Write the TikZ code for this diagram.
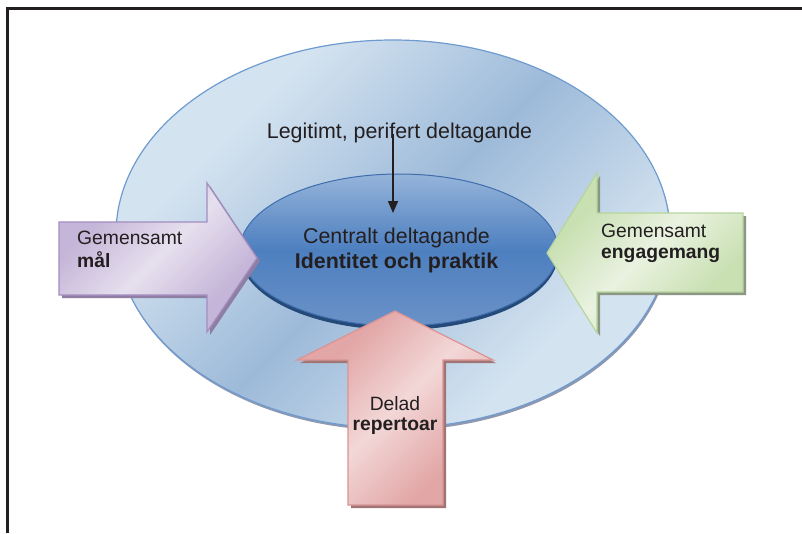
\documentclass[tikz,border=0pt]{standalone}
\usepackage{fontspec}
\setmainfont{Liberation Sans}
\usetikzlibrary{arrows.meta}
\definecolor{framec}{HTML}{231F20}
\definecolor{textc}{HTML}{231F20}
\definecolor{oL}{HTML}{D4E3F0}
\definecolor{oD}{HTML}{9DBAD9}
\definecolor{oB}{HTML}{6E9BD0}
\definecolor{oS}{HTML}{8E98AE}
\definecolor{iT}{HTML}{95B4DA}
\definecolor{iM}{HTML}{4D7FBF}
\definecolor{iB}{HTML}{6A92C7}
\definecolor{iBo}{HTML}{3F6DAD}
\definecolor{iR}{HTML}{244A7A}
\definecolor{pB}{HTML}{A48DC0}
\definecolor{pL}{HTML}{E6E0EE}
\definecolor{pD}{HTML}{C5B5D8}
\definecolor{pS}{HTML}{8E7EA3}
\definecolor{gB}{HTML}{B7D59D}
\definecolor{gL}{HTML}{E9F2E0}
\definecolor{gD}{HTML}{C9E0B3}
\definecolor{gS}{HTML}{8C9684}
\definecolor{rB}{HTML}{D99494}
\definecolor{rL}{HTML}{F3D7D7}
\definecolor{rD}{HTML}{E2A6A6}
\definecolor{rS}{HTML}{A27575}
\pgfdeclarehorizontalshading{outersh}{100bp}{color(0bp)=(oL); color(30bp)=(oL); color(50bp)=(oD); color(70bp)=(oL); color(100bp)=(oL)}
\pgfdeclareverticalshading{innersh}{100bp}{color(0bp)=(iB); color(25bp)=(iB); color(50bp)=(iM); color(75bp)=(iT); color(100bp)=(iT)}
\pgfdeclarehorizontalshading{pursh}{100bp}{color(0bp)=(pD); color(30bp)=(pD); color(50bp)=(pL); color(70bp)=(pD); color(100bp)=(pD)}
\pgfdeclarehorizontalshading{grnsh}{100bp}{color(0bp)=(gD); color(30bp)=(gD); color(50bp)=(gL); color(70bp)=(gD); color(100bp)=(gD)}
\pgfdeclarehorizontalshading{pnksh}{100bp}{color(0bp)=(rD); color(30bp)=(rD); color(50bp)=(rL); color(70bp)=(rD); color(100bp)=(rD)}
\begin{document}
\begin{tikzpicture}[x=1pt,y=-1pt,
  ctxt/.style={text=textc, inner sep=0pt, font=\fontsize{21.4}{25}\selectfont},
  ctxtb/.style={ctxt, font=\fontsize{21.4}{25}\selectfont\bfseries},
  atxt/.style={text=textc, inner sep=0pt, font=\fontsize{19.3}{22}\selectfont},
  atxtb/.style={atxt, font=\fontsize{19.3}{22}\selectfont\bfseries},
  framepen/.style={draw=framec, line width=3pt},
  arrowshadow/.style={xshift=3pt, yshift=-3pt},
]
\useasboundingbox (0,0) rectangle (802,533);
\fill[white] (0,0) rectangle (802,533);
\draw[framepen] (7,533) -- (7,8) -- (803,8);

% outer ellipse
\fill[oS] (394,236.5) ellipse [x radius=277pt, y radius=194pt];
\path[shading=outersh, shading angle=-45, draw=oB, line width=1.2pt] (393,234) ellipse [x radius=277pt, y radius=194pt];

% inner ellipse
\fill[iR] (399,254) ellipse [x radius=159pt, y radius=76pt];
\path[shading=innersh, draw=iBo, line width=1pt] (399,250) ellipse [x radius=159pt, y radius=76pt];

% left arrow (purple)
\fill[pS, arrowshadow] (59,222) -- (207,222) -- (207,183) -- (257,258) -- (207,332) -- (207,295) -- (59,295) -- cycle;
\path[shading=pursh, shading angle=-45, draw=pB, line width=1.2pt] (59,222) -- (207,222) -- (207,183) -- (257,258) -- (207,332) -- (207,295) -- (59,295) -- cycle;

% right arrow (green)
\fill[gS, arrowshadow] (743,213) -- (597,213) -- (597,173) -- (547,253) -- (597,333) -- (597,292) -- (743,292) -- cycle;
\path[shading=grnsh, shading angle=-45, draw=gB, line width=1.2pt] (743,213) -- (597,213) -- (597,173) -- (547,253) -- (597,333) -- (597,292) -- (743,292) -- cycle;

% bottom arrow (pink)
\fill[rS, arrowshadow] (395,311) -- (493,360) -- (443,360) -- (443,505) -- (348,505) -- (348,360) -- (297,360) -- cycle;
\path[shading=pnksh, shading angle=-45, draw=rB, line width=1.2pt] (395,311) -- (493,360) -- (443,360) -- (443,505) -- (348,505) -- (348,360) -- (297,360) -- cycle;

% texts
\node[ctxt, anchor=base] (leg) at (399.5,138) {Legitimt, perifert deltagande};
\node[ctxt, anchor=base] (c1) at (396.5,243) {Centralt deltagande};
\node[ctxtb, anchor=base] (c2) at (396.5,268) {Identitet och praktik};
\node[atxt, anchor=base west] (m1) at (77,244) {Gemensamt};
\node[atxtb, anchor=base west] (m2) at (77,267) {mål};
\node[atxt, anchor=base west] (e1) at (601,237) {Gemensamt};
\node[atxtb, anchor=base west] (e2) at (601,258) {engagemang};
\node[atxt, anchor=base] (d1) at (395,410) {Delad};
\node[atxtb, anchor=base] (d2) at (395,430) {repertoar};

% connector
\coordinate (legtop) at (393,134);
\coordinate (legtip) at (393,213);
\draw[draw=textc, line width=1.5pt, -{Triangle[length=12pt,width=10pt]}] (legtop) -- (legtip);
\end{tikzpicture}
\end{document}
